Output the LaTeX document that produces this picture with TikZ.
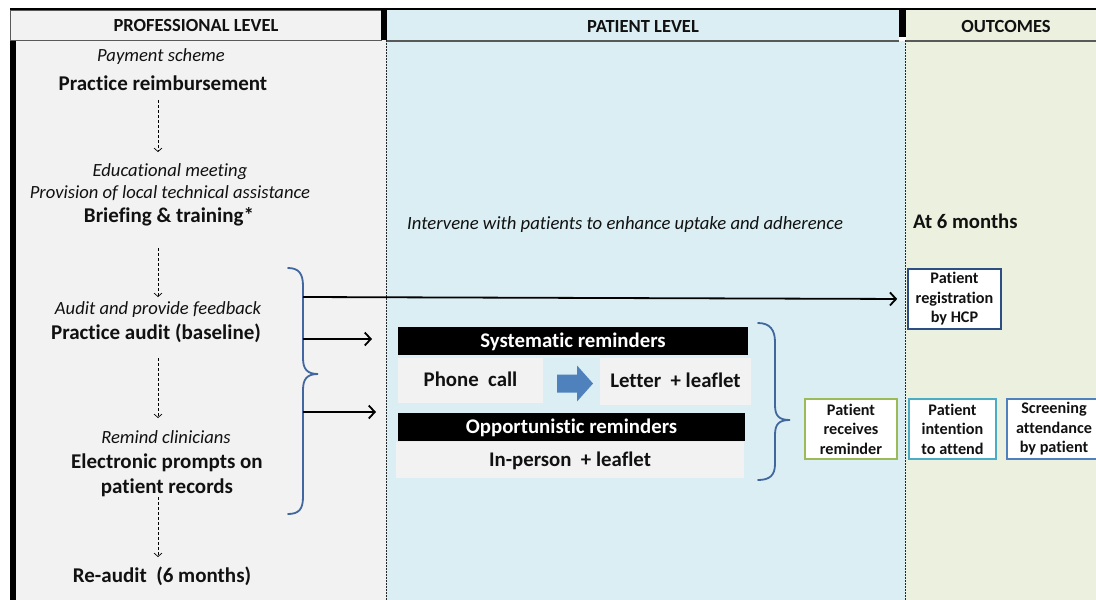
\documentclass[tikz,border=0pt]{standalone}
\usepackage{fontspec}
\setmainfont{Carlito}[Ligatures=NoCommon]
\usetikzlibrary{arrows.meta,calc}
\definecolor{proffill}{HTML}{F2F2F2}
\definecolor{patfill}{HTML}{DAEEF3}
\definecolor{outfill}{HTML}{EBF1DE}
\definecolor{hdrline}{HTML}{595959}
\definecolor{bracecol}{HTML}{41679E}
\definecolor{fatarrow}{HTML}{4F81BD}
\definecolor{remcol}{HTML}{9BBB59}
\definecolor{regcol}{HTML}{2B4F85}
\definecolor{intcol}{HTML}{4BACC6}
\definecolor{attcol}{HTML}{4F81BD}
\definecolor{inktext}{HTML}{111111}
\tikzset{
  hdr/.style={font=\fontsize{18.5}{22}\selectfont\bfseries, text=inktext, anchor=base, inner sep=0pt},
  bigb/.style={font=\fontsize{21}{25}\selectfont\bfseries, inner sep=0pt, anchor=base, text=inktext},
  itl/.style={font=\fontsize{18.6}{22}\selectfont\itshape, inner sep=0pt, anchor=base, text=inktext},
  dasharr/.style={draw=black, line width=0.7pt, dash pattern=on 3pt off 2pt, -{Straight Barb[length=3.5pt,width=8pt]}},
  thickarr/.style={draw=black, line width=1.8pt, -{Straight Barb[length=6pt,width=13pt]}},
  brace/.style={draw=bracecol, line width=1.8pt, line cap=round},
  darkbar/.style={font=\fontsize{20.8}{24}\selectfont\bfseries, text=white, fill=black, inner sep=0pt, text height=14.5pt, text depth=2.5pt},
  lightbox/.style={font=\fontsize{20.8}{24}\selectfont\bfseries, text=inktext, fill=proffill, inner sep=0pt, text height=14.5pt, text depth=2.5pt},
  outbox/.style={font=\fontsize{16.2}{19.5}\selectfont\bfseries, text=inktext, fill=white, line width=1.6pt, align=center, inner sep=0pt, minimum height=60pt},
  divider/.style={draw=black!85, line width=0.9pt, dash pattern=on 2pt off 1pt}
}
\begin{document}
\begin{tikzpicture}[x=1pt,y=-1pt]
\useasboundingbox (0,0) rectangle (1096,600);
\fill[white] (0,0) rectangle (1096,600);

% column bodies
\fill[proffill] (16,40) rectangle (386,600);
\fill[black] (10,40) rectangle (16,600);
\fill[patfill] (386,41) rectangle (905,600);
\fill[outfill] (905,41) rectangle (1096,600);
\draw[divider] (386,40) -- (386,600);
\draw[divider] (905,40) -- (905,600);

% header row
\draw[black, line width=1.5pt] (10,9) -- (1096,9);
\draw[hdrline, fill=proffill, line width=0.8pt] (10,10) rectangle (381,40);
\fill[black] (381,10) rectangle (387,40);
\fill[patfill] (387,10) rectangle (899,41);
\draw[hdrline, line width=1.2pt] (387,41) -- (899,41);
\fill[black] (899,10) rectangle (906,37);
\fill[outfill] (906,10) rectangle (1096,41);
\draw[hdrline, line width=1.2pt] (906,41) -- (1096,41);
\node[hdr] (hprof) at (196,31) {PROFESSIONAL LEVEL};
\node[hdr] (hpat) at (643,32) {PATIENT LEVEL};
\node[hdr] (hout) at (1006,32) {OUTCOMES};

% professional level column
\node[itl] (pay) at (161,61) {Payment scheme};
\node[bigb] (reimb) at (163,90) {Practice reimbursement};
\node[itl] (edu) at (170,176) {Educational meeting};
\node[itl] (prov) at (170,198) {Provision of local technical assistance};
\node[bigb] (brief) at (169,222) {Briefing \& training*};
\node[itl] (auditI) at (158,314) {Audit and provide feedback};
\node[bigb] (auditB) at (156,339) {Practice audit (baseline)};
\node[itl] (remind) at (166,443) {Remind clinicians};
\node[bigb] (prompts) at (167,468) {Electronic prompts on};
\node[bigb] (records) at (167,493) {patient records};
\node[bigb] (reaudit) at (162,582) {Re-audit~ (6 months)};

\coordinate (axis) at (158,0);
\draw[dasharr, shorten <=10pt, shorten >=24pt] (reimb.base -| axis) -- (edu.base -| axis);
\draw[dasharr, shorten <=26pt, shorten >=17pt] (brief.base -| axis) -- (auditI.base -| axis);
\draw[dasharr, shorten <=19pt, shorten >=25pt] (auditB.base -| axis) -- (remind.base -| axis);
\draw[dasharr, shorten <=4pt, shorten >=25pt] (records.base -| axis) -- (reaudit.base -| axis);

% brace grouping the professional interventions
\draw[brace] (288,268) .. controls (299,268) and (303,274) .. (303,286)
  -- (303,358) .. controls (303,369) and (307,374) .. (318,374)
  .. controls (307,374) and (303,379) .. (303,390)
  -- (303,497) .. controls (303,509) and (299,514) .. (288,514);
\coordinate (bl1) at (303,297);
\coordinate (bl2) at (303,339);
\coordinate (bl3) at (303,412);
\coordinate (pt2) at (372,339);
\coordinate (pt3) at (376,412);

% patient level column
\node[font=\fontsize{18.7}{22}\selectfont\itshape, text=inktext, anchor=base west, inner sep=0pt] (interv) at (407,229) {Intervene with patients to enhance uptake and adherence};
\node[darkbar, minimum width=350pt, minimum height=28pt] (sys) at (573,341) {Systematic reminders};
\node[lightbox, minimum width=145pt, minimum height=45pt] (phone) at (470.5,380.5) {Phone~ call};
\node[lightbox, minimum width=151pt, minimum height=47pt] (letter) at (675.5,381.5) {Letter~ + leaflet};
\node[darkbar, minimum width=347pt, minimum height=28pt] (opp) at (571.5,427) {Opportunistic reminders};
\node[lightbox, minimum width=348pt, minimum height=36pt] (inperson) at (570,460) {In-person~ + leaflet};
\fill[fatarrow] (557,374.5) -- (577,374.5) -- (577,365.5) -- (593,383.5)
  -- (577,401.5) -- (577,392.5) -- (557,392.5) -- cycle;

\draw[brace] (758,323) .. controls (770,323) and (775,330) .. (775,342)
  -- (775,405) .. controls (775,416) and (779,420) .. (790,420)
  .. controls (779,420) and (775,424) .. (775,435)
  -- (775,464) .. controls (775,475) and (770,480) .. (758,480);

% outcomes
\node[font=\fontsize{20.7}{24}\selectfont\bfseries, text=inktext, anchor=base west, inner sep=0pt] (six) at (913,228) {At 6 months};
\node[outbox, draw=remcol, minimum width=92pt] (rem) at (851,429) {Patient\\receives\\reminder};
\node[outbox, draw=regcol, minimum width=93pt] (reg) at (954.5,299) {Patient\\registration\\by HCP};
\node[outbox, draw=intcol, minimum width=87pt] (intent) at (952.5,429) {Patient\\intention\\to attend};
\node[outbox, draw=attcol, minimum width=94pt] (attend) at (1054,429) {Screening\\attendance\\by patient};

% connectors from the brace
\draw[thickarr, shorten >=10pt] (bl1) -- (reg.west);
\draw[thickarr] (bl2) -- (pt2);
\draw[thickarr] (bl3) -- (pt3);
\end{tikzpicture}
\end{document}
